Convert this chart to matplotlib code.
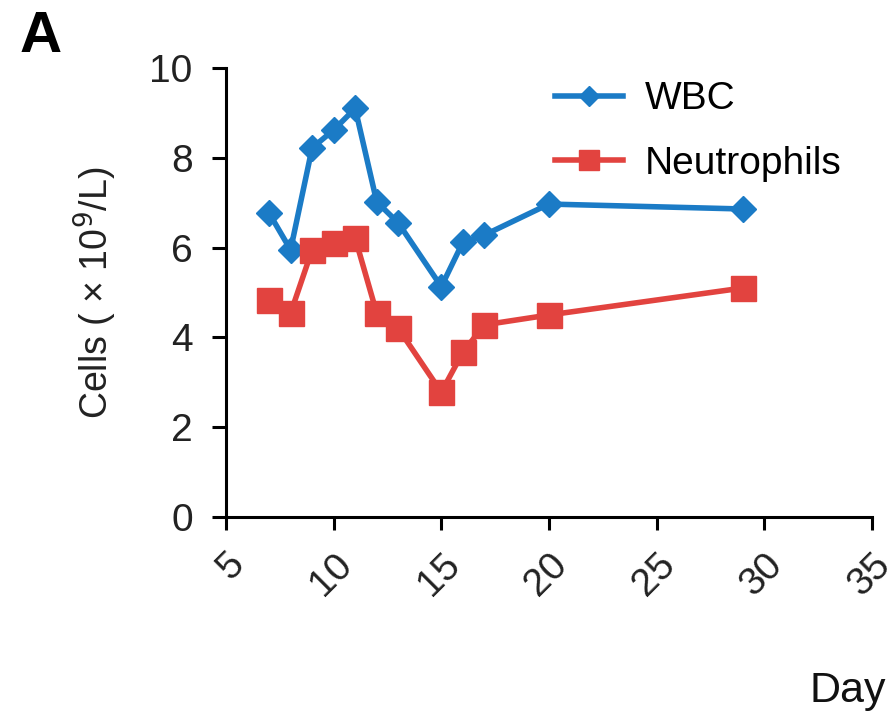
import matplotlib
matplotlib.use("Agg")
import matplotlib.pyplot as plt

days = [7, 8, 9, 10, 11, 12, 13, 15, 16, 17, 20, 29]
wbc = [6.77, 5.95, 8.22, 8.62, 9.1, 7.02, 6.55, 5.13, 6.12, 6.28, 6.97, 6.86]
neut = [4.83, 4.54, 5.95, 6.1, 6.21, 4.54, 4.2, 2.78, 3.67, 4.28, 4.5, 5.1]
xticks = [5, 10, 15, 20, 25, 30, 35]
yticks = [0, 2, 4, 6, 8, 10]

blue = "#1b7bc6"
red = "#e2433f"

plt.rcParams['font.family'] = ['Liberation Sans', 'DejaVu Sans']

fig = plt.figure(figsize=(8.95, 7.18), dpi=100)
ax = fig.add_axes([0.2525, 0.2799, 0.9743 - 0.2525, 0.9053 - 0.2799])

ax.plot(days, wbc, color=blue, lw=4, marker='D', ms=13, mec=blue, mew=1, label='WBC')
ax.plot(days, neut, color=red, lw=4, marker='s', ms=18, mec=red, mew=1, label='Neutrophils')

ax.set_xlim(5, 35)
ax.set_ylim(0, 10)
ax.set_xticks(xticks)
ax.set_yticks(yticks)
ax.set_xticklabels([str(t) for t in xticks], rotation=45, ha='right', va='top',
                   rotation_mode='anchor', fontsize=28, color='#222222')
ax.set_yticklabels([str(t) for t in yticks], fontsize=28, color='#222222')
ax.tick_params(axis='y', direction='out', length=10, width=2.2, pad=14)
ax.tick_params(axis='x', direction='out', length=9, width=2.2, pad=12)
for s in ['top', 'right']:
    ax.spines[s].set_visible(False)
for s in ['left', 'bottom']:
    ax.spines[s].set_linewidth(2.2)

ax.set_ylabel('Cells ( × 10$^{9}$/L)', fontsize=27, color='#222222', labelpad=22)

leg = ax.legend(loc='upper left', bbox_to_anchor=(0.455, 1.048), frameon=False,
                fontsize=28, handlelength=1.75, markerscale=0.8, labelspacing=0.73,
                handletextpad=0.55)

fig.text(0.022, 0.928, 'A', fontsize=42, fontweight='bold', ha='left', va='baseline')
fig.text(0.905, 0.022, 'Day', fontsize=31, ha='left', va='baseline', color='#111111')

fig.savefig('out.png', dpi=100)
